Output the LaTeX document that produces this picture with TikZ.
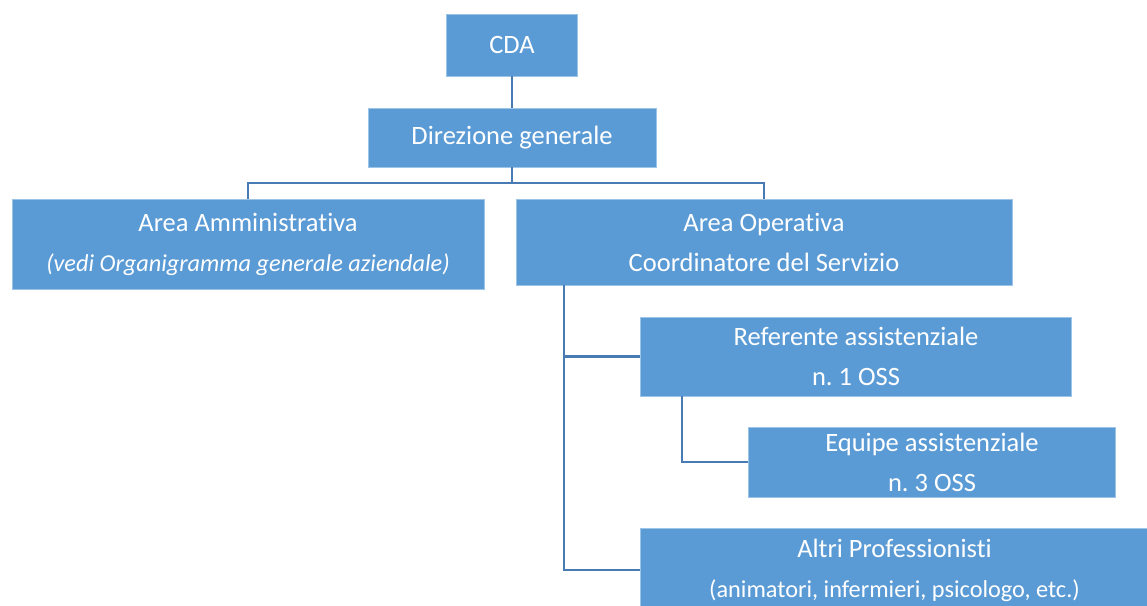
\documentclass[tikz,border=0pt]{standalone}
\usepackage{fontspec}
\setmainfont[Ligatures=NoCommon,RawFeature=-liga]{Carlito}
\definecolor{boxblue}{RGB}{91,155,213}
\definecolor{lineblue}{RGB}{72,122,180}
\frenchspacing
\newcommand{\smallline}{\fontsize{24.3}{40}\selectfont}
\begin{document}
\begin{tikzpicture}[x=1pt,y=-1pt,
  orgbox/.style={fill=boxblue,draw=boxblue!60!white,line width=0.6pt,text=white,align=center,inner sep=0pt,
    font=\fontsize{26.5}{40}\selectfont},
  conn/.style={draw=lineblue,line width=2.4pt}]
\useasboundingbox (0,0) rectangle (1147,605);
\node[orgbox,minimum width=131,minimum height=62] (cda) at (512,45) {CDA};
\node[orgbox,minimum width=288,minimum height=59] (dir) at (512,137.5) {Direzione generale};
\node[orgbox,minimum width=472,minimum height=90] (amm) at (248,244) {Area Amministrativa\\{\smallline\itshape (vedi Organigramma generale aziendale)}};
\node[orgbox,minimum width=496,minimum height=86] (ope) at (764,242) {Area Operativa\\Coordinatore del Servizio};
\node[orgbox,minimum width=431,minimum height=79] (ref) at (856,356.5) {Referente assistenziale\\n. 1 OSS};
\node[orgbox,minimum width=367,minimum height=70] (equ) at (932,462) {Equipe assistenziale\\n. 3 OSS};
\node[orgbox,minimum width=508,minimum height=84] (alt) at (894.5,570) {Altri Professionisti\\{\smallline (animatori, infermieri, psicologo, etc.)}};
\coordinate (bar) at (512,183);
\coordinate (trunk) at (564,285);
\coordinate (sub) at (682,397);
\draw[conn] (cda.south) -- (dir.north);
\draw[conn] (dir.south) -- (bar) -| (amm.north);
\draw[conn] (bar) -| (ope.north);
\draw[conn] (ope.south -| trunk) |- (ref.west);
\draw[conn] (ope.south -| trunk) |- (alt.west);
\draw[conn] (ref.south -| sub) |- (equ.west);
\end{tikzpicture}
\end{document}
